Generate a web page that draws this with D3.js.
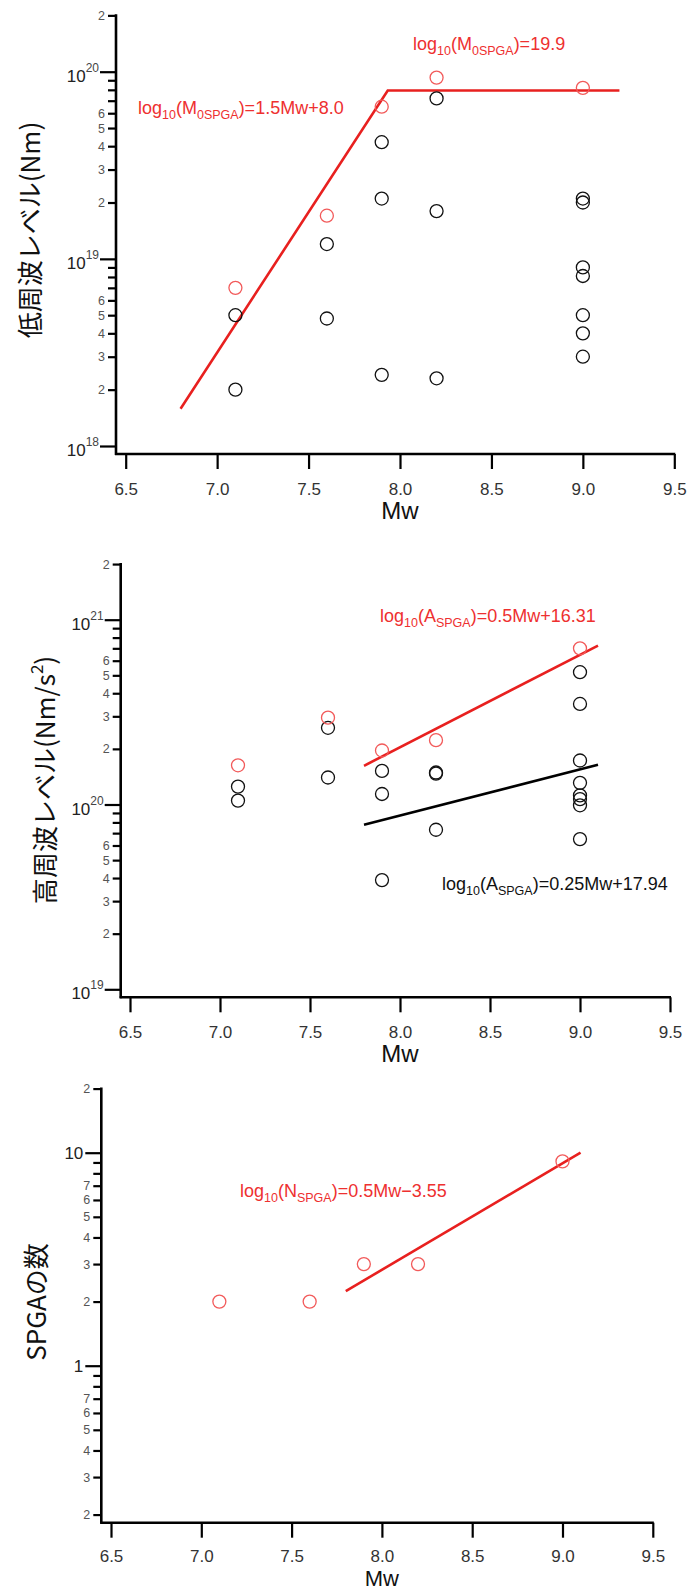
<!DOCTYPE html>
<html>
<head>
<meta charset="utf-8">
<script src="https://cdn.jsdelivr.net/npm/d3@7"></script>
<style>
  body { margin: 0; background: #fff; }
  svg text { font-family: 'Liberation Sans', Arial, sans-serif; }
  svg text.jp { font-family: 'Noto Sans CJK JP', sans-serif; }
</style>
</head>
<body>
<svg id="chart" width="689" height="1591"></svg>
<script>
'use strict';

// Mw tick labels shared by the three panels
var mwTicks = [6.5, 7.0, 7.5, 8.0, 8.5, 9.0, 9.5];

// Panel 1: low frequency level (Nm)
var lowRedMw = [7.1, 7.6, 7.9, 8.2, 9.0];
var lowRedVal = [7.0e18, 1.7e19, 6.5e19, 9.3e19, 8.2e19];
var lowBlackMw = [7.1, 7.1, 7.6, 7.6, 7.9, 7.9, 7.9, 8.2, 8.2, 8.2, 9.0, 9.0, 9.0, 9.0, 9.0, 9.0, 9.0];
var lowBlackVal = [5.0e18, 2.0e18, 1.2e19, 4.8e18, 4.2e19, 2.1e19, 2.4e18, 7.2e19, 1.8e19, 2.3e18,
  2.1e19, 2.0e19, 9.0e18, 8.1e18, 5.0e18, 4.0e18, 3.0e18];
var lowFitMw = [6.8, 7.933, 9.2];
var lowFitVal = [1.58e18, 7.94e19, 7.94e19];

// Panel 2: high frequency level (Nm/s^2)
var highRedMw = [7.1, 7.6, 7.9, 8.2, 9.0];
var highRedVal = [1.63e20, 2.95e20, 1.96e20, 2.23e20, 7.0e20];
var highBlackMw = [7.1, 7.1, 7.6, 7.6, 7.9, 7.9, 7.9, 8.2, 8.2, 8.2, 9.0, 9.0, 9.0, 9.0, 9.0, 9.0, 9.0, 9.0];
var highBlackVal = [1.25e20, 1.05e20, 2.6e20, 1.4e20, 1.52e20, 1.14e20, 3.9e19, 1.49e20, 1.47e20, 7.3e19,
  5.2e20, 3.5e20, 1.73e20, 1.31e20, 1.12e20, 1.07e20, 0.99e20, 6.5e19];
var highFitMw = [7.8, 9.1];
var highRedFitVal = [1.62e20, 7.24e20];
var highBlackFitVal = [7.76e19, 1.64e20];

// Panel 3: number of SPGA
var countMw = [7.1, 7.6, 7.9, 8.2, 9.0];
var countVal = [2, 2, 3, 3, 9.1];
var countFitMw = [7.8, 9.1];
var countFitVal = [2.24, 10];

var RED_LINE = '#e8201f';
var RED_MARK = '#f25a5a';
var RED_TEXT = '#ee3030';

var svg = d3.select('#chart');

function drawPanel(cfg) {
  var g = svg.append('g');
  var x = d3.scaleLinear().domain([6.5, 9.5]).range([cfg.x65, cfg.x95]);
  var y = d3.scaleLog().domain([cfg.lo, cfg.hi]).range([cfg.loPx, cfg.hiPx]);

  var decades = [];
  var labeled = [];
  var unlabeled = [];
  for (var e = Math.log10(cfg.lo); e <= Math.log10(cfg.hi) + 1e-9; e++) {
    var base = Math.pow(10, e);
    decades.push(base);
    if (base < cfg.hi) {
      for (var k = 2; k <= 9; k++) {
        (cfg.minorLabels.indexOf(k) >= 0 ? labeled : unlabeled).push(k * base);
      }
    }
  }
  labeled.push(cfg.top);

  // y ticks
  g.append('g')
    .attr('transform', 'translate(' + cfg.left + ',0)')
    .call(d3.axisLeft(y).tickValues(decades).tickSize(16).tickFormat(''))
    .call(styleAxis);
  g.append('g')
    .attr('transform', 'translate(' + cfg.left + ',0)')
    .call(d3.axisLeft(y).tickValues(unlabeled).tickSize(8).tickFormat(''))
    .call(styleAxis);
  var minor = g.append('g')
    .attr('transform', 'translate(' + cfg.left + ',0)')
    .call(d3.axisLeft(y).tickValues(labeled).tickSize(8).tickPadding(3)
      .tickFormat(function(d) { return Math.round(d / Math.pow(10, Math.floor(Math.log10(d) + 1e-9))); }))
    .call(styleAxis);
  minor.selectAll('text')
    .attr('font-size', 12.5)
    .attr('fill', '#555');

  // decade labels
  decades.forEach(function(d) {
    var exp = Math.round(Math.log10(d));
    if (cfg.powerLabels) {
      var t = g.append('text')
        .attr('x', cfg.left - 17)
        .attr('y', y(d) + 10)
        .attr('text-anchor', 'end')
        .attr('fill', '#222')
        .attr('font-size', 17);
      t.append('tspan').text('10');
      t.append('tspan').attr('dy', -10).attr('font-size', 12).attr('fill', '#444').text(exp);
    } else {
      g.append('text')
        .attr('x', cfg.left - 18)
        .attr('y', y(d) + 6)
        .attr('text-anchor', 'end')
        .attr('fill', '#222')
        .attr('font-size', 17)
        .text(d3.format('d')(d));
    }
  });

  // x axis
  var xa = g.append('g')
    .attr('transform', 'translate(0,' + cfg.bottom + ')')
    .call(d3.axisBottom(x).tickValues(mwTicks).tickSize(15).tickPadding(cfg.xPad).tickFormat(d3.format('.1f')))
    .call(styleAxis);
  xa.selectAll('text').attr('font-size', 17).attr('fill', '#333');

  // axis lines
  g.append('line')
    .attr('x1', cfg.left).attr('x2', cfg.left)
    .attr('y1', y(cfg.top) - 1).attr('y2', cfg.bottom + 1)
    .attr('stroke', '#000').attr('stroke-width', 2.6);
  g.append('line')
    .attr('x1', cfg.left - 1).attr('x2', x(9.5) + 1)
    .attr('y1', cfg.bottom).attr('y2', cfg.bottom)
    .attr('stroke', '#000').attr('stroke-width', 2.6);

  // axis titles
  g.append('text')
    .attr('x', x(8.0))
    .attr('y', cfg.bottom + cfg.mwGap)
    .attr('text-anchor', 'middle')
    .attr('font-size', cfg.mwSize)
    .attr('fill', '#111')
    .text('Mw');

  var yt = g.append('text')
    .attr('class', 'jp')
    .attr('transform', 'translate(' + cfg.titleX + ',' + cfg.titleY + ') rotate(-90)')
    .attr('text-anchor', 'middle')
    .attr('font-size', 26)
    .attr('fill', '#111');
  cfg.title.forEach(function(part) {
    var ts = yt.append('tspan').text(part.t);
    if (part.sup) ts.attr('dy', -12).attr('font-size', 17);
    if (part.down) ts.attr('dy', 12);
  });

  return { g: g, x: x, y: y };
}

function styleAxis(sel) {
  sel.select('.domain').remove();
  sel.selectAll('.tick line').attr('stroke', '#000').attr('stroke-width', 2.2);
}

function addLine(p, xs, ys, color) {
  var line = d3.line()
    .x(function(d) { return p.x(d[0]); })
    .y(function(d) { return p.y(d[1]); });
  p.g.append('path')
    .datum(d3.zip(xs, ys))
    .attr('d', line)
    .attr('fill', 'none')
    .attr('stroke', color)
    .attr('stroke-width', 2.6);
}

function addPoints(p, xs, ys, color) {
  p.g.append('g').selectAll('circle')
    .data(d3.zip(xs, ys))
    .enter().append('circle')
    .attr('cx', function(d) { return p.x(d[0]); })
    .attr('cy', function(d) { return p.y(d[1]); })
    .attr('r', 6.5)
    .attr('fill', 'none')
    .attr('stroke', color)
    .attr('stroke-width', 1.3);
}

// parts: [text, isSub]
function addLabel(p, px, py, parts, color) {
  var t = p.g.append('text')
    .attr('x', px)
    .attr('y', py)
    .attr('font-size', 18)
    .attr('fill', color);
  var lowered = false;
  parts.forEach(function(part) {
    var ts = t.append('tspan').text(part[0]);
    if (part[1] && !lowered) { ts.attr('dy', 5).attr('font-size', 12.5); lowered = true; }
    else if (part[1]) { ts.attr('font-size', 12.5); }
    else if (lowered) { ts.attr('dy', -5); lowered = false; }
  });
}

// ---- panel 1
var p1 = drawPanel({
  left: 116, x65: 125.7, x95: 674.3, bottom: 454, mwGap: 65, mwSize: 24, xPad: 14,
  lo: 1e18, hi: 1e20, loPx: 446, hiPx: 71.7, top: 2e20,
  minorLabels: [2, 3, 4, 5, 6], powerLabels: true,
  titleX: 40, titleY: 230,
  title: [{ t: '低周波レベル(Nm)' }]
});
addLine(p1, lowFitMw, lowFitVal, RED_LINE);
addPoints(p1, lowBlackMw, lowBlackVal, '#111');
addPoints(p1, lowRedMw, lowRedVal, RED_MARK);
addLabel(p1, 413, 50, [['log'], ['10', 1], ['(M'], ['0SPGA', 1], [')=19.9']], RED_TEXT);
addLabel(p1, 138, 113.5, [['log'], ['10', 1], ['(M'], ['0SPGA', 1], [')=1.5Mw+8.0']], RED_TEXT);

// ---- panel 2
var p2 = drawPanel({
  left: 120.7, x65: 130, x95: 670, bottom: 997.3, mwGap: 65, mwSize: 24, xPad: 14,
  lo: 1e19, hi: 1e21, loPx: 989.3, hiPx: 619.7, top: 2e21,
  minorLabels: [2, 3, 4, 5, 6], powerLabels: true,
  titleX: 55, titleY: 780,
  title: [{ t: '高周波レベル(Nm/s' }, { t: '2', sup: true }, { t: ')', down: true }]
});
addLine(p2, highFitMw, highRedFitVal, RED_LINE);
addLine(p2, highFitMw, highBlackFitVal, '#000');
addPoints(p2, highBlackMw, highBlackVal, '#111');
addPoints(p2, highRedMw, highRedVal, RED_MARK);
addLabel(p2, 380, 622, [['log'], ['10', 1], ['(A'], ['SPGA', 1], [')=0.5Mw+16.31']], RED_TEXT);
addLabel(p2, 442, 890, [['log'], ['10', 1], ['(A'], ['SPGA', 1], [')=0.25Mw+17.94']], '#111');

// ---- panel 3
var p3 = drawPanel({
  left: 101.3, x65: 111, x95: 652.8, bottom: 1522.7, mwGap: 63.5, mwSize: 22, xPad: 12.5,
  lo: 1, hi: 10, loPx: 1365.7, hiPx: 1152.7, top: 20,
  minorLabels: [2, 3, 4, 5, 6, 7], powerLabels: false,
  titleX: 46, titleY: 1302,
  title: [{ t: 'SPGAの数' }]
});
// ticks below 1
p3.g.append('g')
  .attr('transform', 'translate(101.3,0)')
  .call(d3.axisLeft(p3.y).tickValues([0.8, 0.9]).tickSize(8).tickFormat(''))
  .call(styleAxis);
var sub1 = p3.g.append('g')
  .attr('transform', 'translate(101.3,0)')
  .call(d3.axisLeft(p3.y).tickValues([0.2, 0.3, 0.4, 0.5, 0.6, 0.7]).tickSize(8).tickPadding(3)
    .tickFormat(function(d) { return Math.round(d * 10); }))
  .call(styleAxis);
sub1.selectAll('text').attr('font-size', 12.5).attr('fill', '#555');
addLine(p3, countFitMw, countFitVal, RED_LINE);
addPoints(p3, countMw, countVal, RED_MARK);
addLabel(p3, 240, 1196.5, [['log'], ['10', 1], ['(N'], ['SPGA', 1], [')=0.5Mw\u22123.55']], RED_TEXT);
</script>
</body>
</html>
